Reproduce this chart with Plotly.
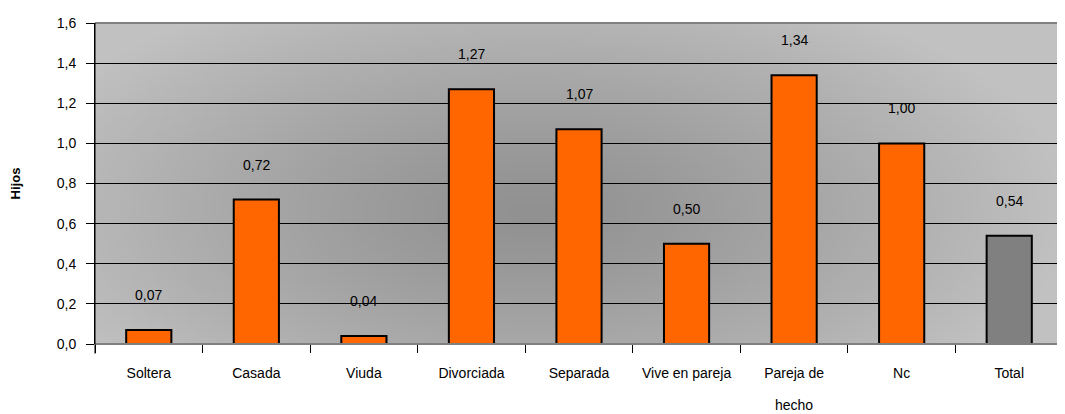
import base64, struct, zlib
import numpy as np
import plotly.graph_objects as go

categories = ["Soltera", "Casada", "Viuda", "Divorciada", "Separada",
              "Vive en pareja", "Pareja de hecho", "Nc", "Total"]
tick_labels = ["Soltera", "Casada", "Viuda", "Divorciada", "Separada",
               "Vive en pareja", "Pareja de", "Nc", "Total"]
tick_label_second_line = {"Pareja de hecho": "hecho"}
values = [0.07, 0.72, 0.04, 1.27, 1.07, 0.50, 1.34, 1.00, 0.54]
bar_colors = ["#FF6600"] * 8 + ["#808080"]
y_ticks = [0.0, 0.2, 0.4, 0.6, 0.8, 1.0, 1.2, 1.4, 1.6]

# radial grey gradient background as PNG
W, H = 240, 80
yy, xx = np.mgrid[0:H, 0:W]
cx, cy = 0.45 * W, 0.58 * H
r = np.sqrt(((xx - cx) / (0.55 * W)) ** 2 + ((yy - cy) / (0.75 * H)) ** 2)
r = np.clip(r, 0, 1)
v = (145 + (193 - 145) * r ** 1.2).astype(np.uint8)
raw = b"".join(b"\x00" + bytes(np.stack([v[i], v[i], v[i]], axis=1).flatten()) for i in range(H))
def chunk(t, d):
    c = struct.pack(">I", len(d)) + t + d
    return c + struct.pack(">I", zlib.crc32(t + d) & 0xffffffff)
png = b"\x89PNG\r\n\x1a\n" + chunk(b"IHDR", struct.pack(">IIBBBBB", W, H, 8, 2, 0, 0, 0)) \
      + chunk(b"IDAT", zlib.compress(raw, 9)) + chunk(b"IEND", b"")
src = "data:image/png;base64," + base64.b64encode(png).decode()

fig = go.Figure(go.Bar(
    x=categories, y=values,
    marker=dict(color=bar_colors, line=dict(color="#000000", width=2)),
    hoverinfo="skip",
))

for c, v_ in zip(categories, values):
    fig.add_annotation(x=c, y=v_, text=f"{v_:.2f}".replace(".", ","),
                       showarrow=False, yshift=35, yanchor="middle",
                       font=dict(family="Liberation Sans, Arial", size=14, color="#000000"))

for c, t in tick_label_second_line.items():
    fig.add_annotation(x=c, y=0, yref="paper", text=t, showarrow=False,
                       yanchor="middle", yshift=-61,
                       font=dict(family="Liberation Sans, Arial", size=14, color="#000000"))

fig.add_layout_image(dict(source=src, xref="paper", yref="paper", x=0, y=1,
                          sizex=1, sizey=1, sizing="stretch", layer="below",
                          xanchor="left", yanchor="top"))

fig.update_layout(
    width=1057, height=406,
    margin=dict(l=87, r=2, t=15, b=70),
    paper_bgcolor="#FFFFFF",
    plot_bgcolor="#C0C0C0",
    separators=",.",
    bargap=0.58,
    showlegend=False,
    font=dict(family="Liberation Sans, Arial", size=13, color="#000000"),
    xaxis=dict(type="category", tickson="boundaries", ticks="outside", ticklen=8,
               tickcolor="#000000", showline=False, showgrid=False,
               tickmode="array", tickvals=categories, ticktext=tick_labels,
               ticklabelstandoff=19, tickfont=dict(size=14), automargin=False),
    yaxis=dict(range=[0, 1.6], tickvals=y_ticks, tickformat=".1f",
               ticks="outside", ticklen=8, tickcolor="#000000",
               showline=True, linecolor="#000000", linewidth=1,
               showgrid=True, gridcolor="#000000", gridwidth=1,
               zeroline=False, tickfont=dict(size=14), ticklabelstandoff=7,
               automargin=False,
               title=dict(text="<b>Hijos</b>", font=dict(size=13), standoff=33)),
)
fig.add_shape(type="line", xref="paper", yref="paper", x0=0, x1=1, y0=1, y1=1,
              line=dict(color="#808080", width=2))
fig.add_shape(type="line", xref="paper", yref="paper", x0=0, x1=1, y0=0, y1=0,
              line=dict(color="#808080", width=2))
fig.add_shape(type="line", xref="paper", yref="paper", x0=0, x1=0, y0=-0.03, y1=1,
              line=dict(color="#000000", width=1))

fig.write_html("out.html")
